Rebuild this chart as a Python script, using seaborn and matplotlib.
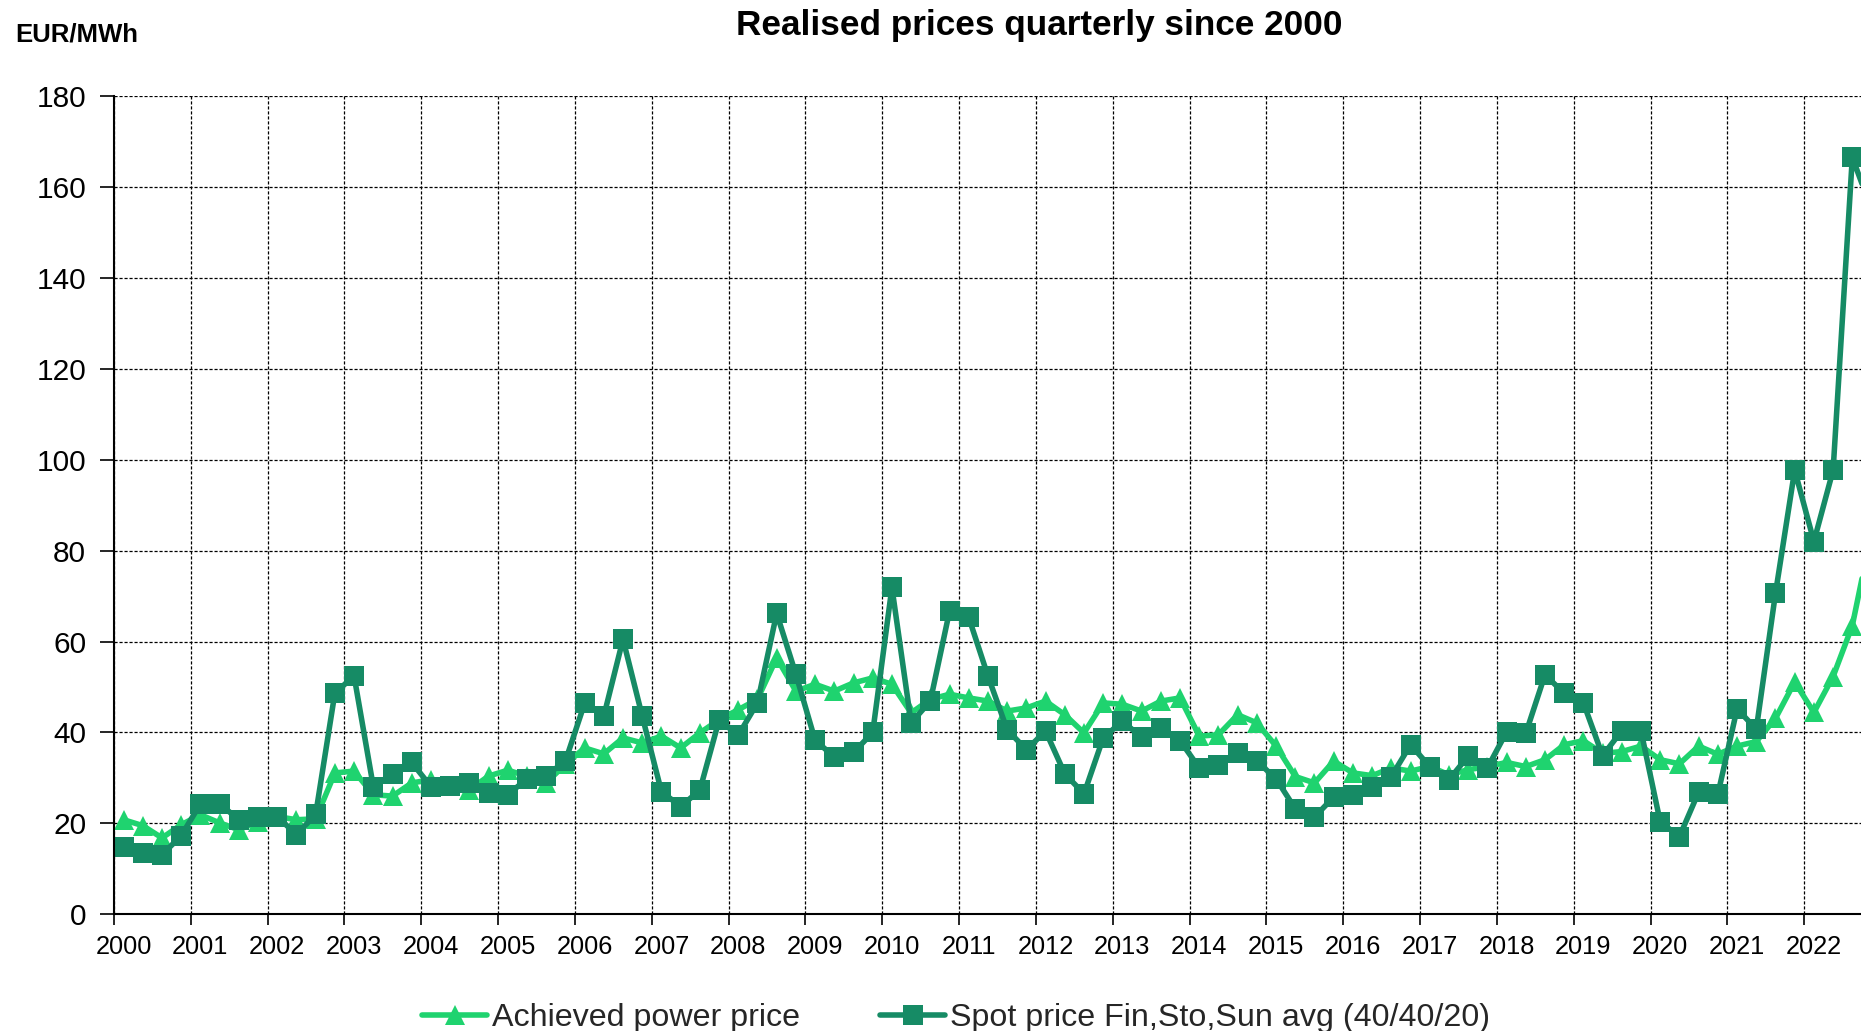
import numpy as np
import pandas as pd
import matplotlib
matplotlib.use('Agg')
import matplotlib.pyplot as plt
import seaborn as sns
from matplotlib.lines import Line2D

# quarterly data, 2000Q1 .. 2022Q4 (last quarter lies past the cropped right edge)
years = list(range(2000, 2023))
quarters = [1, 2, 3, 4]

achieved = [
    20.8, 19.5, 16.8, 19.7,   # 2000
    21.9, 20.1, 18.6, 20.4,   # 2001
    21.5, 20.8, 21.0, 31.1,   # 2002
    31.5, 26.3, 26.0, 28.9,   # 2003
    29.6, 28.2, 27.4, 30.4,   # 2004
    31.7, 30.4, 28.9, 33.0,   # 2005
    36.6, 35.3, 38.8, 37.7,   # 2006
    39.2, 36.6, 39.9, 42.8,   # 2007
    45.0, 47.3, 56.4, 49.1,   # 2008
    50.6, 49.1, 50.9, 52.0,   # 2009
    50.6, 44.3, 47.3, 48.4,   # 2010
    47.6, 46.9, 44.7, 45.4,   # 2011
    46.9, 43.9, 39.9, 46.5,   # 2012
    46.2, 44.7, 46.9, 47.6,   # 2013
    39.2, 39.5, 43.9, 42.1,   # 2014
    37.0, 30.3, 28.9, 33.7,   # 2015
    31.1, 30.5, 32.2, 31.5,   # 2016
    32.5, 30.7, 31.8, 32.5,   # 2017
    33.4, 32.5, 34.0, 37.3,   # 2018
    38.2, 35.4, 35.8, 37.0,   # 2019
    34.0, 33.1, 37.0, 35.2,   # 2020
    37.0, 38.0, 43.1, 51.1,   # 2021
    44.4, 52.3, 63.5, 84.0,   # 2022
]

spot = [
    14.9, 13.4, 13.1, 17.3,   # 2000
    24.3, 24.3, 20.8, 21.5,   # 2001
    21.5, 17.5, 22.0, 48.7,   # 2002
    52.4, 28.1, 30.9, 33.4,   # 2003
    28.1, 28.3, 28.9, 26.7,   # 2004
    26.3, 29.8, 30.5, 33.7,   # 2005
    46.4, 43.6, 60.5, 43.6,   # 2006
    27.0, 23.7, 27.3, 42.7,   # 2007
    39.4, 46.5, 66.2, 52.8,   # 2008
    38.3, 34.6, 35.6, 40.0,   # 2009
    71.9, 42.1, 46.9, 66.7,   # 2010
    65.3, 52.4, 40.6, 36.2,   # 2011
    40.3, 30.9, 26.5, 38.8,   # 2012
    42.5, 38.9, 41.0, 38.2,   # 2013
    32.2, 32.9, 35.5, 33.7,   # 2014
    29.8, 23.2, 21.4, 25.8,   # 2015
    26.3, 28.0, 30.3, 37.3,   # 2016
    32.5, 29.6, 34.8, 32.2,   # 2017
    40.1, 39.8, 52.7, 48.6,   # 2018
    46.5, 34.9, 40.4, 40.3,   # 2019
    20.3, 17.1, 26.9, 26.4,   # 2020
    45.2, 40.7, 70.6, 97.7,   # 2021
    82.0, 97.7, 166.5, 155.0, # 2022
]

series_names = ['Achieved power price', 'Spot price Fin,Sto,Sun avg (40/40/20)']
colors = {series_names[0]: '#1fd36f', series_names[1]: '#168b65'}
markers = {series_names[0]: '^', series_names[1]: 's'}

# each quarter sits in the middle of its slot on the year axis
t = [y + (q - 0.5) / 4 for y in years for q in quarters]
df = pd.concat([
    pd.DataFrame({'t': t, 'price': achieved, 'series': series_names[0]}),
    pd.DataFrame({'t': t, 'price': spot, 'series': series_names[1]}),
])

sns.set_theme(style='white')
plt.rcParams['font.family'] = ['Liberation Sans', 'DejaVu Sans']

W, H = 1861, 1031
fig = plt.figure(figsize=(W / 100, H / 100), dpi=100)
ax = fig.add_axes([114 / W, 1 - 914.3 / H, 1 - 114 / W, (914.3 - 96) / H])

sns.lineplot(data=df, x='t', y='price', hue='series', style='series',
             palette=colors, markers=markers, dashes=False, sort=False,
             linewidth=4, markersize=15, markeredgewidth=0,
             legend=False, ax=ax)

ax.set_xlim(2000, 2022.738)
ax.set_ylim(0, 180)
ax.set_yticks(range(0, 181, 20))
ax.set_xticks(years)
ax.set_xticklabels([])
ax.set_xticks([y + 0.125 for y in years], minor=True)
ax.set_xticklabels([str(y) for y in years], minor=True)

ax.tick_params(axis='x', which='major', length=8, width=1.2, color='black',
               direction='out', bottom=True)
ax.tick_params(axis='x', which='minor', length=0, pad=15, labelsize=18.3,
               labelcolor='black', bottom=True)
ax.tick_params(axis='y', which='major', length=10, width=1.2, color='black',
               direction='out', pad=10, labelsize=21.5, labelcolor='black', left=True)

ax.grid(True, which='major', color='black', linestyle=(0, (2.5, 1.5)), linewidth=0.9)
ax.grid(False, which='minor')
ax.set_axisbelow(True)
for side in ['top', 'right']:
    ax.spines[side].set_visible(False)
for side in ['left', 'bottom']:
    ax.spines[side].set_color('black')
    ax.spines[side].set_linewidth(1.5)
ax.set_xlabel('')
ax.set_ylabel('')

fig.text(1039 / W, 1 - 26 / H, 'Realised prices quarterly since 2000',
         ha='center', va='center', fontsize=25.3, fontweight='bold', color='black')
fig.text(15 / W, 1 - 35 / H, 'EUR/MWh', ha='left', va='center',
         fontsize=18.5, fontweight='bold', color='black')

handles = [Line2D([], [], color=colors[n], marker=markers[n], markersize=14,
                  markeredgewidth=0, linewidth=4) for n in series_names]
fig.legend(handles, series_names, loc='center', ncol=2, frameon=False,
           bbox_to_anchor=(956 / W, 1 - 1018 / H), fontsize=23.2,
           handlelength=2.0, handletextpad=0.15, columnspacing=2.5)

fig.savefig('out.png', dpi=100)
